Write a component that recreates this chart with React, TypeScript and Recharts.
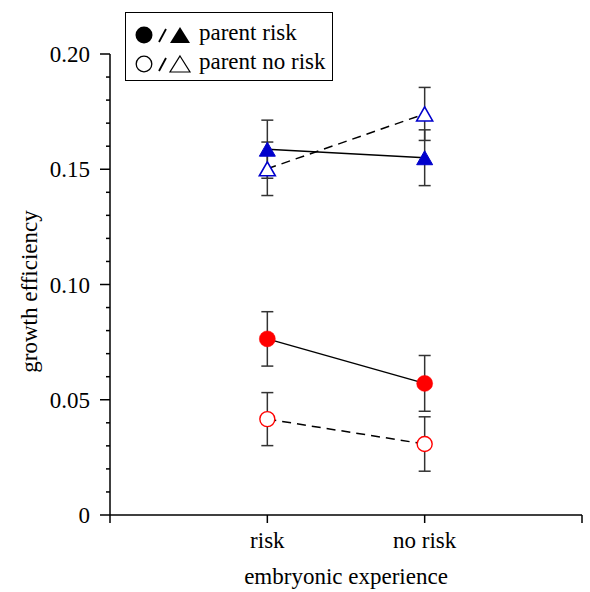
import { ComposedChart, Line, XAxis, YAxis, ErrorBar, Legend, Label } from 'recharts';

const EXPERIENCE = ['risk', 'no risk'];
const X_POS = [1, 2];
const X_TICKS = [0, 1, 2, 3];
const MAJOR_TICKS = [0, 0.05, 0.1, 0.15, 0.2];
const MINOR_TICKS = [0.01, 0.02, 0.03, 0.04, 0.06, 0.07, 0.08, 0.09, 0.11, 0.12, 0.13, 0.14, 0.16, 0.17, 0.18, 0.19];

// triangles: parent risk (filled) / parent no risk (open)
const TRI_RISK = [0.1587, 0.155];
const TRI_RISK_ERR = [0.0126, 0.0121];
const TRI_NORISK = [0.1502, 0.174];
const TRI_NORISK_ERR = [0.0116, 0.0115];
// circles
const CIRC_RISK = [0.0764, 0.0571];
const CIRC_RISK_ERR = [0.0118, 0.0121];
const CIRC_NORISK = [0.0416, 0.0308];
const CIRC_NORISK_ERR = [0.0115, 0.0118];

const data = X_POS.map((x, i) => ({
  x,
  triRisk: TRI_RISK[i], triRiskErr: TRI_RISK_ERR[i],
  triNoRisk: TRI_NORISK[i], triNoRiskErr: TRI_NORISK_ERR[i],
  circRisk: CIRC_RISK[i], circRiskErr: CIRC_RISK_ERR[i],
  circNoRisk: CIRC_NORISK[i], circNoRiskErr: CIRC_NORISK_ERR[i],
}));

const BLUE = '#0000cc';
const RED = '#ff0000';
const FONT = '"Liberation Serif", "DejaVu Serif", serif';
const FS = 23;

const tri = (filled: boolean) => (p: any) => {
  const { cx, cy } = p;
  if (cx == null || cy == null) return <g key={`t${p.index}`} />;
  const w = 8, h = 7;
  const d = `M${cx},${cy - h} L${cx + w},${cy + h} L${cx - w},${cy + h} Z`;
  return (
    <path key={`t${filled}${p.index}`} d={d}
      fill={filled ? BLUE : '#fff'} stroke={BLUE} strokeWidth={filled ? 1 : 1.6} />
  );
};

const circ = (filled: boolean) => (p: any) => {
  const { cx, cy } = p;
  if (cx == null || cy == null) return <g key={`c${p.index}`} />;
  return (
    <circle key={`c${filled}${p.index}`} cx={cx} cy={cy} r={filled ? 8 : 7.5}
      fill={filled ? RED : '#fff'} stroke={RED} strokeWidth={filled ? 0.5 : 1.4} />
  );
};

const YTick = (p: any) => {
  const { x, y, payload } = p;
  const v = payload.value;
  const major = MAJOR_TICKS.some((m) => Math.abs(m - v) < 1e-9);
  return (
    <g>
      <line x1={x - (major ? 10 : 4)} x2={x} y1={y} y2={y} stroke="#000" strokeWidth={1.5} />
      {major && (
        <text x={x - 20} y={y} dy="0.35em" textAnchor="end" fontSize={FS} fontFamily={FONT} fill="#000">
          {v === 0 ? '0' : v.toFixed(2)}
        </text>
      )}
    </g>
  );
};

const Glyphs = ({ filled }: { filled: boolean }) => (
  <svg width={58} height={20} style={{ verticalAlign: 'middle', marginRight: 6 }}>
    <circle cx={9} cy={10} r={filled ? 8.5 : 7.8} fill={filled ? '#000' : '#fff'} stroke="#000" strokeWidth={filled ? 0 : 1.3} />
    <line x1={24} y1={17} x2={31} y2={4} stroke="#000" strokeWidth={1.8} />
    <path d="M45,2 L55,18 L35,18 Z" fill={filled ? '#000' : '#fff'} stroke="#000" strokeWidth={filled ? 0 : 1.2} />
  </svg>
);

const LegendBox = () => (
  <div style={{
    border: '1.5px solid #000', width: 208, height: 69, boxSizing: 'border-box',
    background: '#fff', fontFamily: FONT, fontSize: FS, lineHeight: '29px',
    padding: '5px 0 0 9px', color: '#000', whiteSpace: 'nowrap',
  }}>
    <div><Glyphs filled />parent risk</div>
    <div><Glyphs filled={false} />parent no risk</div>
  </div>
);

export default function App() {
  return (
    <div style={{ position: 'absolute', left: 0, top: 0 }}>
      <ComposedChart width={590} height={592} data={data}
        margin={{ top: 54, right: 8, left: 0, bottom: 0 }}>
        <XAxis dataKey="x" type="number" domain={[0, 3]} ticks={X_TICKS}
          tickFormatter={(v: number) => EXPERIENCE[v - 1] ?? ''}
          height={77} tickSize={8} tickMargin={9}
          axisLine={{ stroke: '#000', strokeWidth: 1.5 }}
          tickLine={{ stroke: '#000', strokeWidth: 1.5 }}
          tick={{ fill: '#000', fontSize: FS, fontFamily: FONT }}>
          <Label content={(p: any) => (
            <text x={p.viewBox.x + p.viewBox.width / 2} y={584} textAnchor="middle"
              fontSize={FS} fontFamily={FONT} fill="#000">embryonic experience</text>
          )} />
        </XAxis>
        <YAxis type="number" domain={[0, 0.2]} ticks={[...MAJOR_TICKS, ...MINOR_TICKS].sort((a, b) => a - b)}
          width={110} tickSize={0} tickMargin={0} interval={0}
          axisLine={{ stroke: '#000', strokeWidth: 1.5 }} tickLine={false} tick={<YTick />}>
          <Label content={(p: any) => {
            const cy = p.viewBox.y + p.viewBox.height / 2 + 7;
            return (
              <text x={29} y={cy} transform={`rotate(-90, 29, ${cy})`} textAnchor="middle"
                dominantBaseline="central" fontSize={FS} fontFamily={FONT} fill="#000">growth efficiency</text>
            );
          }} />
        </YAxis>
        <Legend layout="vertical" align="center" verticalAlign="middle"
          wrapperStyle={{ top: 12, left: 125, width: 208, height: 69 }} content={<LegendBox />} />

        <Line dataKey="circNoRisk" stroke="#000" strokeWidth={1.5} strokeDasharray="9 6"
          dot={circ(false)} activeDot={false} isAnimationActive={false}>
          <ErrorBar dataKey="circNoRiskErr" direction="y" width={6} stroke="#333" strokeWidth={1.5} />
        </Line>
        <Line dataKey="circRisk" stroke="#000" strokeWidth={1.5}
          dot={circ(true)} activeDot={false} isAnimationActive={false}>
          <ErrorBar dataKey="circRiskErr" direction="y" width={6} stroke="#333" strokeWidth={1.5} />
        </Line>
        <Line dataKey="triNoRisk" stroke="#000" strokeWidth={1.5} strokeDasharray="9 6"
          dot={tri(false)} activeDot={false} isAnimationActive={false}>
          <ErrorBar dataKey="triNoRiskErr" direction="y" width={6} stroke="#333" strokeWidth={1.5} />
        </Line>
        <Line dataKey="triRisk" stroke="#000" strokeWidth={1.5}
          dot={tri(true)} activeDot={false} isAnimationActive={false}>
          <ErrorBar dataKey="triRiskErr" direction="y" width={6} stroke="#333" strokeWidth={1.5} />
        </Line>
      </ComposedChart>
    </div>
  );
}
